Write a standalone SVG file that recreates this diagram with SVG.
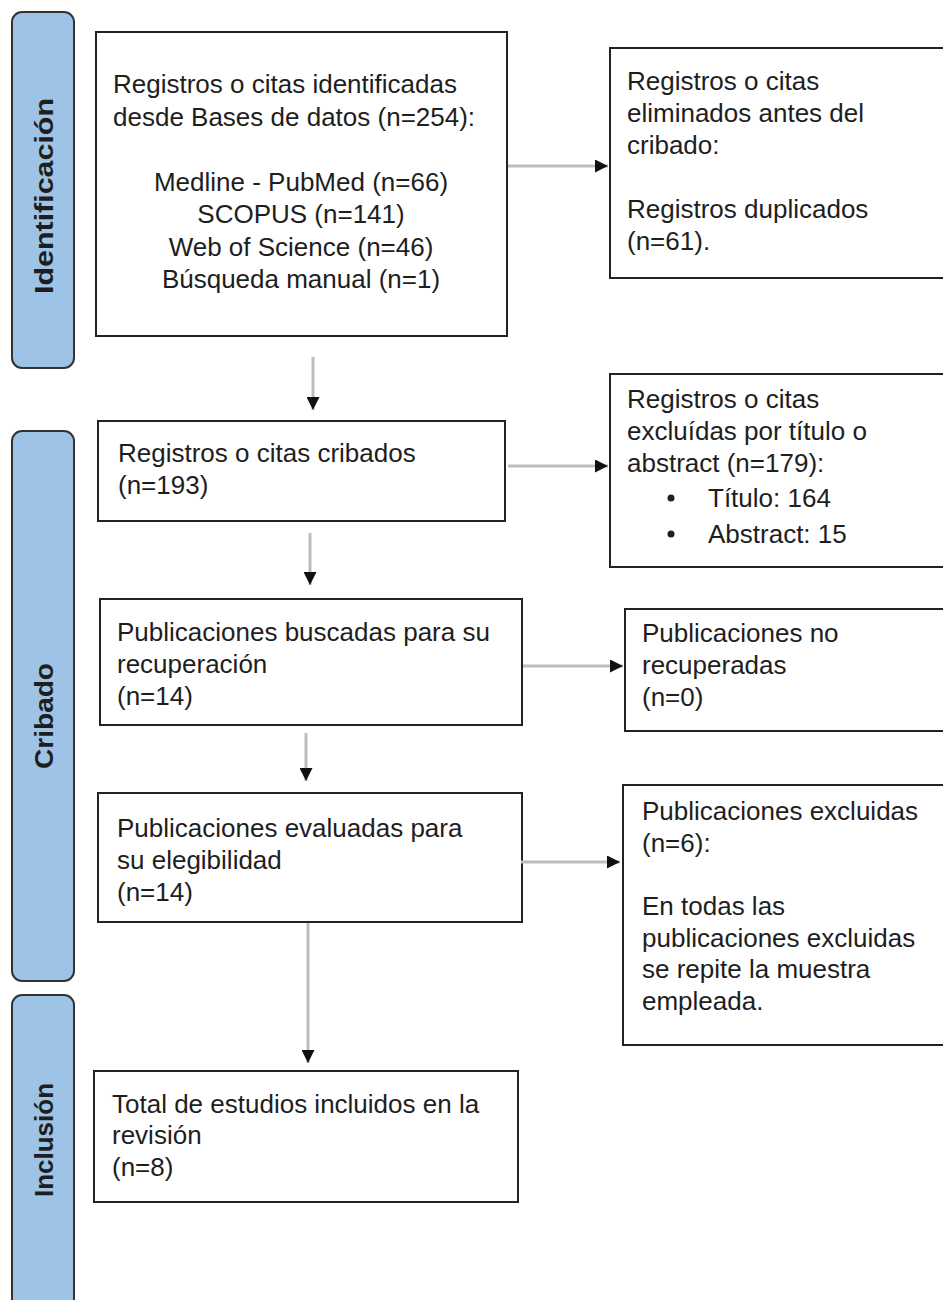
<svg xmlns="http://www.w3.org/2000/svg" width="943" height="1300" viewBox="0 0 943 1300">
<defs>
<marker id="ah" viewBox="0 0 12 12" refX="12" refY="6" markerWidth="13" markerHeight="13" markerUnits="userSpaceOnUse" orient="auto">
<path d="M0,0 L12,6 L0,12 Z" fill="#111"/>
</marker>
<style>
.bar{fill:#9DC3E6;stroke:#333;stroke-width:2}
.box{fill:#fff;stroke:#222;stroke-width:2}
.t{font-family:"Liberation Sans",Arial,sans-serif;font-size:26px;fill:#1e1e1e}
.lb{font-family:"Liberation Sans",Arial,sans-serif;font-size:26px;font-weight:bold;fill:#1e1e1e}
.c{stroke:#bdbdbd;stroke-width:3;fill:none;marker-end:url(#ah)}
</style>
</defs>
<rect width="943" height="1300" fill="#fff"/>

<g id="phase-identificacion">
<rect class="bar" x="12" y="12" width="62" height="356" rx="10"/>
<text class="lb" transform="translate(53,196) rotate(-90)" text-anchor="middle" textLength="196" lengthAdjust="spacingAndGlyphs">Identificación</text>
</g>
<g id="phase-cribado">
<rect class="bar" x="12" y="431" width="62" height="550" rx="10"/>
<text class="lb" transform="translate(53,716) rotate(-90)" text-anchor="middle" textLength="106" lengthAdjust="spacingAndGlyphs">Cribado</text>
</g>
<g id="phase-inclusion">
<rect class="bar" x="12" y="995" width="62" height="330" rx="10"/>
<text class="lb" transform="translate(53,1140) rotate(-90)" text-anchor="middle" textLength="114" lengthAdjust="spacingAndGlyphs">Inclusión</text>
</g>

<g id="node-identificados">
<rect class="box" x="96" y="32" width="411" height="304"/>
<text class="t" x="113" y="93">Registros o citas identificadas</text>
<text class="t" x="113" y="125.5">desde Bases de datos (n=254):</text>
<text class="t" x="301" y="190.5" text-anchor="middle">Medline - PubMed (n=66)</text>
<text class="t" x="301" y="223" text-anchor="middle">SCOPUS (n=141)</text>
<text class="t" x="301" y="255.5" text-anchor="middle">Web of Science (n=46)</text>
<text class="t" x="301" y="288" text-anchor="middle">Búsqueda manual (n=1)</text>
</g>

<g id="node-eliminados">
<rect class="box" x="610" y="48" width="345" height="230"/>
<text class="t" x="627" y="90">Registros o citas</text>
<text class="t" x="627" y="122">eliminados antes del</text>
<text class="t" x="627" y="154">cribado:</text>
<text class="t" x="627" y="218">Registros duplicados</text>
<text class="t" x="627" y="250">(n=61).</text>
</g>

<g id="node-cribados">
<rect class="box" x="98" y="421" width="407" height="100"/>
<text class="t" x="118" y="462">Registros o citas cribados</text>
<text class="t" x="118" y="494">(n=193)</text>
</g>

<g id="node-excluidos-titulo">
<rect class="box" x="610" y="374" width="345" height="193"/>
<text class="t" x="627" y="408">Registros o citas</text>
<text class="t" x="627" y="440">excluídas por título o</text>
<text class="t" x="627" y="472">abstract (n=179):</text>
<circle cx="671" cy="498" r="3.5" fill="#1e1e1e"/>
<text class="t" x="708" y="507">Título: 164</text>
<circle cx="671" cy="534" r="3.5" fill="#1e1e1e"/>
<text class="t" x="708" y="543">Abstract: 15</text>
</g>

<g id="node-buscadas">
<rect class="box" x="100" y="599" width="422" height="126"/>
<text class="t" x="117" y="641">Publicaciones buscadas para su</text>
<text class="t" x="117" y="673">recuperación</text>
<text class="t" x="117" y="705">(n=14)</text>
</g>

<g id="node-no-recuperadas">
<rect class="box" x="625" y="609" width="330" height="122"/>
<text class="t" x="642" y="642">Publicaciones no</text>
<text class="t" x="642" y="674">recuperadas</text>
<text class="t" x="642" y="706">(n=0)</text>
</g>

<g id="node-evaluadas">
<rect class="box" x="98" y="793" width="424" height="129"/>
<text class="t" x="117" y="837">Publicaciones evaluadas para</text>
<text class="t" x="117" y="869">su elegibilidad</text>
<text class="t" x="117" y="901">(n=14)</text>
</g>

<g id="node-excluidas">
<rect class="box" x="623" y="785" width="332" height="260"/>
<text class="t" x="642" y="820">Publicaciones excluidas</text>
<text class="t" x="642" y="852">(n=6):</text>
<text class="t" x="642" y="915">En todas las</text>
<text class="t" x="642" y="947">publicaciones excluidas</text>
<text class="t" x="642" y="978">se repite la muestra</text>
<text class="t" x="642" y="1010">empleada.</text>
</g>

<g id="node-incluidos">
<rect class="box" x="94" y="1071" width="424" height="131"/>
<text class="t" x="112" y="1113">Total de estudios incluidos en la</text>
<text class="t" x="112" y="1144">revisión</text>
<text class="t" x="112" y="1176">(n=8)</text>
</g>

<g id="connectors">
<line class="c" x1="508" y1="166" x2="608" y2="166"/>
<line class="c" x1="313" y1="357" x2="313" y2="410"/>
<line class="c" x1="508" y1="466" x2="608" y2="466"/>
<line class="c" x1="310" y1="533" x2="310" y2="585"/>
<line class="c" x1="523" y1="666" x2="623" y2="666"/>
<line class="c" x1="306" y1="733" x2="306" y2="781"/>
<line class="c" x1="521" y1="862" x2="620" y2="862"/>
<line class="c" x1="308" y1="923" x2="308" y2="1063"/>
</g>
</svg>
